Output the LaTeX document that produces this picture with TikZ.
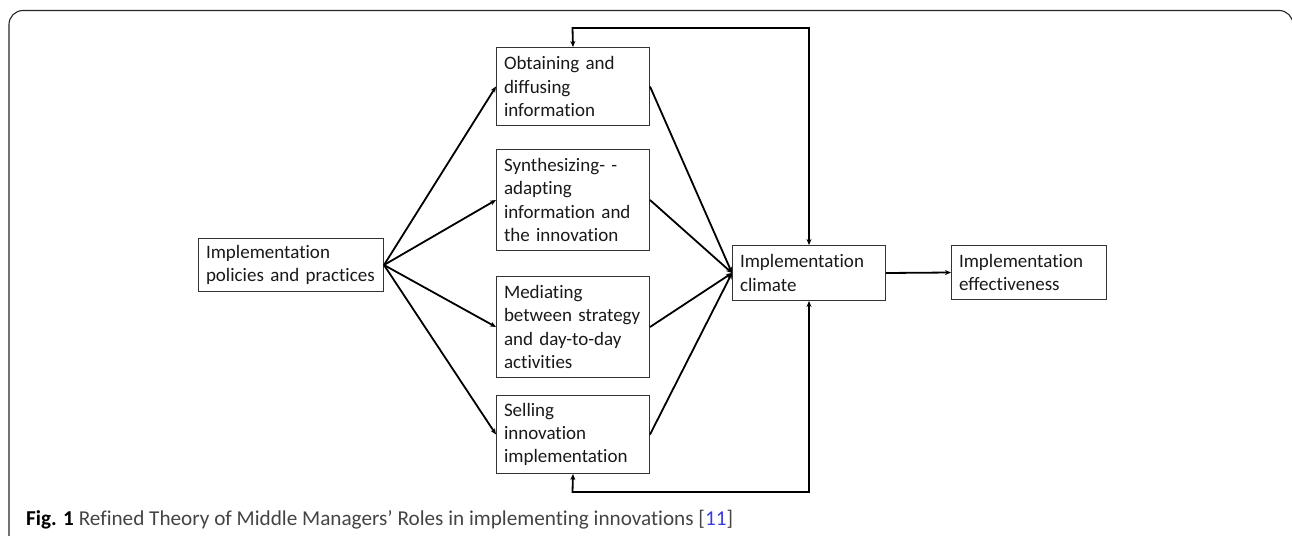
\documentclass[tikz,border=0pt]{standalone}
\usepackage{fontspec}
\setmainfont{Carlito}[Ligatures=NoCommon]
\usetikzlibrary{arrows.meta}
\definecolor{boxline}{HTML}{333333}
\definecolor{captxt}{HTML}{444444}
\definecolor{citeblue}{HTML}{3A3AE0}
\newcommand{\boxline}[1]{\mbox{#1}}
\begin{document}
\begin{tikzpicture}[x=1pt,y=-1pt,
  rolebox/.style={draw=boxline, line width=1pt, rectangle, anchor=north west,
    inner xsep=7.5pt, inner ysep=3pt, align=left, font=\fontsize{19}{23.3}\selectfont,
    text=black!90},
  conn/.style={line width=1.8pt, -{Stealth[length=6pt,width=5pt]}},
  bothconn/.style={line width=1.8pt, {Stealth[length=6pt,width=5pt]}-{Stealth[length=6pt,width=5pt]}}]
\useasboundingbox (0,0) rectangle (1292,535);
% frame
\begin{scope}
\clip (0,0) rectangle (1292,535);
\draw[line width=1.1pt, draw=black!85, rounded corners=14pt] (9,560) -- (9,10.5) -- (1293,10.5) -- (1293,560);
\end{scope}
% nodes
\node[rolebox, text width=170pt, minimum height=53pt] (pol) at (198,238) {\boxline{Implementation}\\\boxline{policies and practices}};
\node[rolebox, text width=138pt, minimum height=78pt] (obt) at (496,47) {\boxline{Obtaining and}\\\boxline{diffusing}\\\boxline{information}};
\node[rolebox, text width=138pt, minimum height=101pt] (syn) at (496,149) {\boxline{Synthesizing- -}\\\boxline{adapting}\\\boxline{information and}\\\boxline{the innovation}};
\node[rolebox, text width=138pt, minimum height=101pt] (med) at (496,276) {\boxline{Mediating}\\\boxline{between strategy}\\\boxline{and day-to-day}\\\boxline{activities}};
\node[rolebox, text width=138pt, minimum height=78pt] (sel) at (496,395) {\boxline{Selling}\\\boxline{innovation}\\\boxline{implementation}};
\node[rolebox, text width=138pt, minimum height=55pt] (cli) at (732,245) {\boxline{Implementation}\\\boxline{climate}};
\node[rolebox, text width=140pt, minimum height=54pt] (eff) at (951,245) {\boxline{Implementation}\\\boxline{effectiveness}};
% connectors
\foreach \r in {obt,syn,med,sel}{
  \draw[conn] (pol.east) -- (\r.west);
  \draw[conn] (\r.east) -- (cli.west);
}
\draw[conn] (cli.east) -- (eff.west);
\coordinate (topl) at (572.5,28);
\coordinate (botl) at (572.5,492);
\draw[bothconn] (obt.north) -- (topl) -| (cli.north);
\draw[bothconn] (sel.south) -- (botl) -| (cli.south);
% caption
\node[anchor=base west, inner sep=0pt, font=\fontsize{21.2}{25}\selectfont, text=captxt] (cap) at (26,525)
  {\textcolor{black}{\textbf{Fig. 1}} Refined Theory of Middle Managers’ Roles in implementing innovations [\textcolor{citeblue}{11}]};
\end{tikzpicture}
\end{document}
